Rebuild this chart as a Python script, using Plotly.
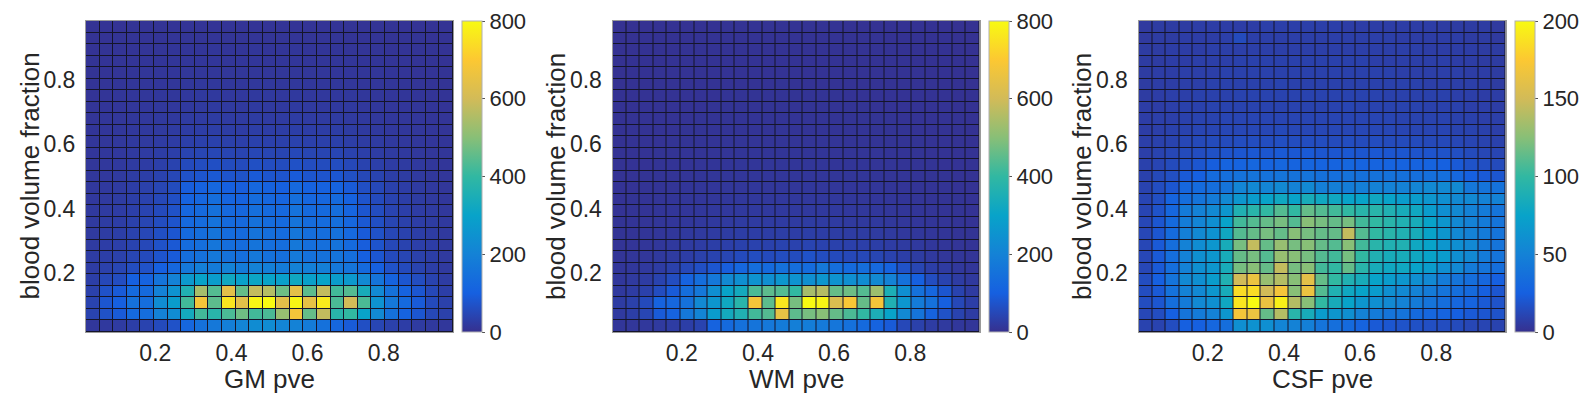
import numpy as np
import plotly.graph_objects as go

# ---------------- data ----------------
bin_edges = np.linspace(1 / 56, 55 / 56, 28)   # 27 cells per axis
tick_vals = [0.2, 0.4, 0.6, 0.8]
tick_text = ["0.2", "0.4", "0.6", "0.8"]
x_titles = ["GM pve", "WM pve", "CSF pve"]
y_title = "blood volume fraction"
cbar_max = [800, 800, 200]
cbar_ticks = [[0, 200, 400, 600, 800], [0, 200, 400, 600, 800], [0, 50, 100, 150, 200]]

# rows listed from bottom (row 0) to top (row 26); 27 columns each
gm_counts = [
    [15,18,22,30,40,55,70,120,150,170,190,210,230,230,210,200,180,150,120,90,65,45,35,28,22,18,15],
    [40,70,90,130,140,200,230,330,420,380,430,470,420,430,520,680,460,580,380,400,300,220,150,110,80,50,35],
    [40,80,100,150,140,230,280,420,680,450,760,640,790,800,640,790,650,770,430,600,430,250,170,130,90,55,35],
    [35,70,90,130,130,200,250,360,540,440,640,460,580,560,470,640,450,580,420,440,340,220,150,110,80,50,30],
    [30,50,60,100,110,160,200,270,300,280,320,290,310,300,290,320,290,300,280,270,220,160,110,80,60,40,25],
    [25,35,45,60,70,100,120,170,190,180,200,180,200,190,180,200,190,190,170,160,130,100,70,55,40,30,20],
    [25,30,35,45,55,75,90,140,150,170,150,140,170,150,145,175,150,150,160,140,100,80,55,45,35,30,20],
    [22,28,32,40,50,70,85,135,145,165,140,135,160,145,140,170,145,145,155,130,95,75,50,40,32,28,20],
    [20,25,30,38,48,65,80,130,140,160,135,130,155,140,135,165,140,140,150,125,90,70,48,38,30,25,18],
    [20,24,28,35,45,60,75,125,135,155,130,125,150,135,130,160,135,135,145,120,85,65,45,35,28,24,18],
    [18,22,26,32,42,55,70,120,130,150,125,120,145,130,125,155,130,130,140,115,80,60,42,32,26,22,16],
    [17,20,24,30,38,50,65,110,120,140,115,110,135,120,115,145,120,120,130,105,75,55,40,30,24,20,15],
    [16,18,22,28,35,45,58,95,105,120,100,95,120,105,100,125,105,105,110,90,65,50,36,28,22,18,14],
    [15,17,20,25,30,38,48,70,78,85,75,72,88,78,75,90,78,76,80,66,50,40,30,24,20,16,13],
    [14,16,18,22,26,32,40,55,60,65,58,56,66,60,58,68,60,58,60,50,40,32,26,22,18,15,12],
    [13,15,17,20,23,27,32,42,45,48,44,42,48,45,43,50,45,43,44,38,32,26,22,19,16,14,12],
    [12,14,16,18,20,23,26,32,34,36,33,32,36,34,33,37,34,33,33,29,25,22,19,17,15,13,11],
    [11,13,15,17,18,20,22,26,28,29,27,26,29,28,27,30,28,27,27,24,21,19,17,15,14,12,10],
    [10,12,14,15,16,18,19,22,23,24,23,22,24,23,22,25,23,22,22,20,18,16,15,14,13,11,10],
    [10,11,13,14,15,16,17,19,20,21,20,19,21,20,19,21,20,19,19,18,16,15,14,13,12,11,9],
    [9,10,12,13,14,15,15,17,18,18,17,17,18,18,17,18,17,17,17,16,15,14,13,12,11,10,9],
    [9,10,11,12,13,13,14,15,16,16,15,15,16,16,15,16,15,15,15,14,13,13,12,11,10,9,8],
    [8,9,10,11,12,12,13,14,14,14,14,14,14,14,14,14,14,14,13,13,12,12,11,10,9,9,8],
    [8,9,10,10,11,11,12,12,13,13,12,13,13,12,12,13,12,12,12,12,11,11,10,10,9,8,7],
    [7,8,9,9,10,10,11,11,11,12,11,11,12,11,11,12,11,11,11,10,10,10,9,9,8,8,7],
    [7,7,8,9,9,9,10,10,10,10,10,10,10,10,10,10,10,10,10,9,9,9,8,8,8,7,6],
    [6,7,7,8,8,8,9,9,9,9,9,9,9,9,9,9,9,9,9,8,8,8,8,7,7,7,6],
]

wm_counts = [
    [12,14,16,20,25,30,40,110,130,150,160,170,180,190,185,175,165,150,130,110,90,50,35,25,20,15,12],
    [20,30,45,90,110,170,210,280,330,360,420,440,650,450,480,500,460,430,400,350,300,220,160,110,70,40,25],
    [25,35,55,110,120,150,220,260,320,380,680,450,760,480,800,790,620,690,460,680,360,260,180,150,100,50,30],
    [18,25,35,60,90,140,170,240,300,330,430,450,440,400,540,560,460,470,440,530,350,240,150,120,80,40,22],
    [15,20,25,40,60,110,140,170,220,240,250,240,260,250,240,260,250,240,230,220,200,150,100,60,40,25,18],
    [12,15,18,25,35,50,65,80,95,120,140,130,150,140,135,170,140,130,140,125,110,70,45,30,22,16,12],
    [10,12,14,18,22,28,35,40,45,55,60,55,60,58,70,60,55,50,50,45,38,30,24,18,14,12,10],
    [9,10,12,15,18,22,26,30,32,36,38,36,40,38,42,38,36,34,32,30,26,22,18,15,12,10,9],
    [8,9,11,13,15,18,20,23,25,27,28,27,29,28,30,28,27,25,24,22,20,17,15,13,11,9,8],
    [8,9,10,12,13,15,17,19,20,22,22,22,23,22,24,22,22,20,19,18,16,14,13,11,10,9,7],
    [7,8,9,11,12,13,15,16,17,18,18,18,19,18,19,18,18,17,16,15,14,12,11,10,9,8,7],
    [7,8,9,10,11,12,13,14,15,16,16,16,17,16,17,16,16,15,14,13,12,11,10,9,8,8,7],
    [7,7,8,9,10,11,12,13,14,14,15,14,15,14,15,14,14,13,13,12,11,10,9,9,8,7,6],
    [6,7,8,9,9,10,11,12,12,13,13,13,13,13,13,13,12,12,12,11,10,10,9,8,8,7,6],
    [6,7,7,8,9,9,10,11,11,12,12,12,12,12,12,12,11,11,11,10,10,9,8,8,7,7,6],
    [6,6,7,8,8,9,9,10,10,11,11,11,11,11,11,11,10,10,10,10,9,9,8,7,7,6,6],
    [5,6,7,7,8,8,9,9,10,10,10,10,10,10,10,10,10,9,9,9,8,8,8,7,7,6,5],
    [5,6,6,7,7,8,8,9,9,9,9,9,10,9,9,9,9,9,9,8,8,8,7,7,6,6,5],
    [5,6,6,7,7,7,8,8,8,9,9,9,9,9,9,9,8,8,8,8,8,7,7,7,6,6,5],
    [5,5,6,6,7,7,7,8,8,8,8,8,8,8,8,8,8,8,8,7,7,7,7,6,6,5,5],
    [5,5,6,6,6,7,7,7,8,8,8,8,8,8,8,8,8,7,7,7,7,7,6,6,6,5,5],
    [4,5,5,6,6,6,7,7,7,7,7,7,8,7,7,7,7,7,7,7,6,6,6,6,5,5,4],
    [4,5,5,6,6,6,6,7,7,7,7,7,7,7,7,7,7,7,7,6,6,6,6,5,5,5,4],
    [4,5,5,5,6,6,6,6,7,7,7,7,7,7,7,7,7,6,6,6,6,6,5,5,5,5,4],
    [4,4,5,5,5,6,6,6,6,6,6,6,6,6,6,6,6,6,6,6,6,5,5,5,5,4,4],
    [4,4,5,5,5,5,6,6,6,6,6,6,6,6,6,6,6,6,6,6,5,5,5,5,5,4,4],
    [4,4,4,5,5,5,5,5,6,6,6,6,6,6,6,6,6,5,5,5,5,5,5,5,4,4,4],
]

csf_counts = [
    [10,10,15,25,25,30,35,60,62,60,52,50,48,40,36,32,28,22,20,18,17,16,15,14,12,11,10],
    [12,15,25,40,45,50,65,170,165,115,140,95,85,70,65,60,50,45,40,40,32,30,28,25,22,20,18],
    [15,20,35,45,55,60,80,190,200,165,195,140,125,100,85,75,65,60,55,50,45,40,35,30,28,22,18],
    [15,22,38,50,55,65,85,185,185,150,170,125,165,110,90,80,75,70,60,55,50,45,40,35,32,25,20],
    [15,25,40,55,60,70,90,150,165,130,140,125,160,115,100,90,85,75,70,65,60,55,45,40,35,30,25],
    [12,22,35,50,60,65,85,120,125,115,145,120,125,105,100,115,95,85,80,80,75,70,60,55,45,40,35],
    [12,22,35,50,60,65,85,115,120,110,130,125,120,110,105,120,100,90,85,85,80,75,70,60,55,45,40],
    [12,22,35,50,58,65,85,120,145,115,130,120,125,115,110,125,105,95,90,90,80,75,65,60,55,45,40],
    [12,20,33,48,55,62,80,110,115,120,115,125,120,115,115,145,110,100,95,90,85,75,65,55,50,45,40],
    [12,20,32,46,52,60,75,105,110,115,120,110,125,120,115,120,105,100,95,90,85,75,65,55,50,45,40],
    [11,18,30,45,50,55,65,90,95,100,110,100,115,110,105,100,95,95,90,85,80,70,60,55,50,45,40],
    [11,16,28,35,40,45,55,65,70,75,80,75,85,80,80,75,75,80,75,70,70,65,60,55,55,50,50],
    [10,15,20,30,33,35,40,52,55,52,55,50,55,48,48,46,48,50,50,50,52,55,55,55,42,40,38],
    [9,13,16,22,25,33,36,38,40,38,40,38,40,37,36,38,37,38,38,37,36,36,36,30,25,22,20],
    [9,11,14,17,20,24,28,28,30,28,30,28,29,28,28,30,28,28,28,27,27,28,26,22,18,16,14],
    [8,10,12,14,15,17,19,20,21,20,22,21,22,20,20,21,20,21,20,20,19,19,18,16,14,12,11],
    [8,9,10,12,13,14,14,15,15,15,16,15,15,15,14,15,14,15,14,14,14,13,13,12,11,10,9],
    [7,8,9,10,11,11,12,12,12,12,13,12,12,12,12,12,12,12,12,11,11,11,11,10,10,9,8],
    [7,8,8,9,10,10,11,11,11,11,11,11,11,11,11,11,11,11,11,10,10,10,10,9,9,8,8],
    [7,7,8,9,9,10,10,10,10,10,10,10,10,10,10,11,10,10,10,10,10,9,9,9,8,8,7],
    [6,7,8,8,9,9,9,10,10,10,10,10,10,10,10,10,10,10,9,9,9,9,9,8,8,7,7],
    [6,7,7,8,8,9,9,9,9,9,10,9,9,9,9,9,9,9,9,9,9,8,8,8,8,7,6],
    [6,7,7,8,8,8,9,9,9,9,9,9,9,9,9,9,9,9,9,8,8,8,8,8,7,7,6],
    [6,6,7,7,8,8,8,9,9,9,9,9,9,9,9,9,9,8,8,8,8,8,8,7,7,6,6],
    [6,6,7,7,7,8,8,8,8,8,8,8,8,8,8,8,8,8,8,8,8,7,7,7,7,6,6],
    [5,6,6,7,7,7,8,14,8,8,8,8,8,8,8,8,8,8,8,7,7,7,7,7,6,6,5],
    [5,6,6,6,7,7,7,7,7,8,8,8,8,8,8,7,7,7,7,7,7,7,6,6,6,6,5],
]

# ---------------- style ----------------
parula = [
    [0.000, "#36308f"],
    [0.125, "#1660e0"],
    [0.250, "#1482d6"],
    [0.375, "#08a3c9"],
    [0.500, "#31b8a2"],
    [0.625, "#88bf77"],
    [0.750, "#d2bb58"],
    [0.875, "#fcc832"],
    [1.000, "#f8fa12"],
]

W, H = 1588, 393
plot_left = [86, 612.5, 1138.5]
plot_w = 367
top_px, bot_px = 21, 332
cb_gap, cb_w = 9, 20
xtitle_y_px = 379
ytitle_dx_px = 57          # distance from plot left edge to y-title centre

font_family = "Liberation Sans, Arial, Helvetica, sans-serif"
txt_color = "#262626"
tick_size, cbar_tick_size, title_size = 23, 22, 26

fig = go.Figure()
all_counts = [gm_counts, wm_counts, csf_counts]
y_dom = [1 - bot_px / H, 1 - top_px / H]
annotations = []

for i in range(3):
    xa = "x" if i == 0 else f"x{i+1}"
    ya = "y" if i == 0 else f"y{i+1}"
    fig.add_trace(go.Heatmap(
        z=all_counts[i], x=bin_edges, y=bin_edges,
        zmin=0, zmax=cbar_max[i], colorscale=parula,
        xgap=1, ygap=1, xaxis=xa, yaxis=ya, hoverinfo="skip",
        colorbar=dict(
            x=(plot_left[i] + plot_w + cb_gap) / W, xanchor="left",
            y=(y_dom[0] + y_dom[1]) / 2, yanchor="middle",
            len=(bot_px - top_px) / H, lenmode="fraction",
            thickness=cb_w, thicknessmode="pixels",
            xpad=0, ypad=0, outlinewidth=1, outlinecolor="#b0b0b0",
            tickvals=cbar_ticks[i], ticks="outside", ticklen=3,
            tickcolor="#555",
            tickfont=dict(size=cbar_tick_size, color=txt_color, family=font_family),
        ),
    ))
    xkey = "xaxis" if i == 0 else f"xaxis{i+1}"
    ykey = "yaxis" if i == 0 else f"yaxis{i+1}"
    fig.layout[xkey] = dict(
        domain=[plot_left[i] / W, (plot_left[i] + plot_w) / W],
        range=[bin_edges[0], bin_edges[-1]], anchor=ya,
        tickvals=tick_vals, ticktext=tick_text, ticks="",
        ticklabelstandoff=0,
        showgrid=False, zeroline=False, showline=True, mirror=True,
        linecolor="#9a9a9a", linewidth=1,
        tickfont=dict(size=tick_size, color=txt_color, family=font_family),
    )
    fig.layout[ykey] = dict(
        domain=y_dom, range=[bin_edges[0], bin_edges[-1]], anchor=xa,
        tickvals=tick_vals, ticktext=tick_text, ticks="",
        ticklabelstandoff=5,
        showgrid=False, zeroline=False, showline=True, mirror=True,
        linecolor="#9a9a9a", linewidth=1,
        tickfont=dict(size=tick_size, color=txt_color, family=font_family),
    )
    annotations.append(dict(
        text=x_titles[i], xref="paper", yref="paper",
        x=(plot_left[i] + plot_w / 2) / W, y=1 - xtitle_y_px / H,
        xanchor="center", yanchor="middle", showarrow=False,
        font=dict(size=title_size, color=txt_color, family=font_family),
    ))
    annotations.append(dict(
        text=y_title, xref="paper", yref="paper", textangle=-90,
        x=(plot_left[i] - ytitle_dx_px) / W, y=(y_dom[0] + y_dom[1]) / 2,
        xanchor="center", yanchor="middle", showarrow=False,
        font=dict(size=title_size, color=txt_color, family=font_family),
    ))

fig.update_layout(
    width=W, height=H, margin=dict(l=0, r=0, t=0, b=0),
    paper_bgcolor="white", plot_bgcolor="#15152a",
    showlegend=False, annotations=annotations,
)

# remove the default page margin so the figure fills the window exactly
fig.write_html("out.html", config={"displayModeBar": False},
               post_script="document.body.style.margin='0px';")
